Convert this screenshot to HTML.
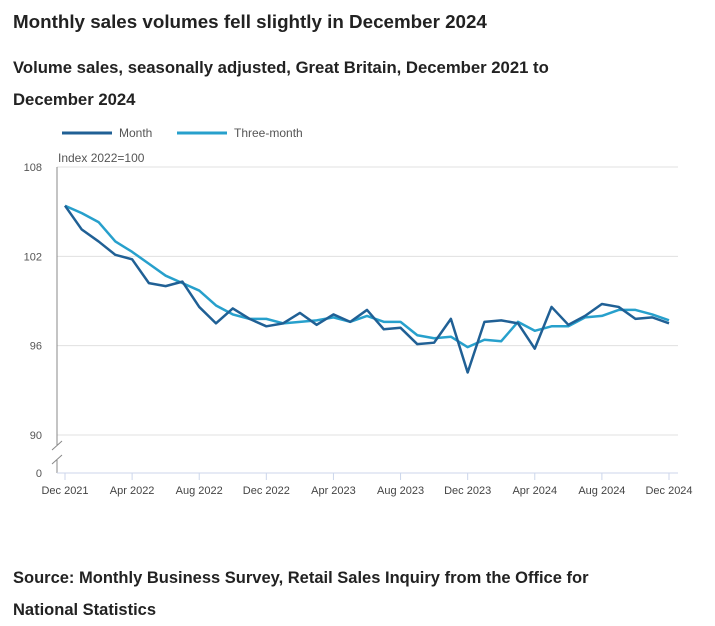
<!DOCTYPE html>
<html><head><meta charset="utf-8"><style>
body{margin:0;background:#fff;font-family:"Liberation Sans",sans-serif;color:#222;width:715px;height:622px;overflow:hidden;position:relative}
.t{position:absolute;left:13px;font-weight:bold;margin:0}
svg{position:absolute;left:0;top:0}
</style></head><body>
<h1 class="t" style="top:11px;font-size:18.8px">Monthly sales volumes fell slightly in December 2024</h1>
<h2 class="t" style="top:52px;font-size:16.7px;line-height:32px;width:580px">Volume sales, seasonally adjusted, Great Britain, December 2021 to December 2024</h2>
<div class="t" style="top:562px;font-size:16.5px;line-height:32px;width:610px">Source: Monthly Business Survey, Retail Sales Inquiry from the Office for National Statistics</div>
<svg id="c" width="715" height="622" font-family="Liberation Sans, sans-serif"></svg>
<script>
const months=["Dec 2021","Apr 2022","Aug 2022","Dec 2022","Apr 2023","Aug 2023","Dec 2023","Apr 2024","Aug 2024","Dec 2024"];
const yTicks=[90,96,102,108];
const monthly=[105.4,103.8,103.0,102.1,101.8,100.2,100.0,100.3,98.6,97.5,98.5,97.8,97.3,97.5,98.2,97.4,98.1,97.6,98.4,97.1,97.2,96.1,96.2,97.8,94.2,97.6,97.7,97.5,95.8,98.6,97.4,98.0,98.8,98.6,97.8,97.9,97.5];
const threeMonth=[105.4,104.9,104.3,103.0,102.3,101.5,100.7,100.2,99.7,98.7,98.1,97.8,97.8,97.5,97.6,97.7,97.9,97.6,98.0,97.6,97.6,96.7,96.5,96.6,95.9,96.4,96.3,97.6,97.0,97.3,97.3,97.9,98.0,98.4,98.4,98.1,97.7];
const NS="http://www.w3.org/2000/svg",svg=document.getElementById('c');
const X=i=>65+i*(604/36), Y=v=>167+(108-v)*(268/18);
function el(t,a,p){const e=document.createElementNS(NS,t);for(const k in a)e.setAttribute(k,a[k]);(p||svg).appendChild(e);return e;}
yTicks.forEach(v=>{
 const g=el('line',{x1:57,x2:678,y1:Y(v),y2:Y(v),stroke:'#e0e0e0'});
 
 
 const t=el('text',{x:42,y:Y(v)+4,'text-anchor':'end','font-size':11,fill:'#555'});t.textContent=v;
 
 
});
let z=el('text',{x:42,y:477,'text-anchor':'end','font-size':11,fill:'#555'});z.textContent='0';


let u=el('text',{x:58,y:162,'font-size':12,fill:'#555'});u.textContent='Index 2022=100';


el('line',{x1:57,x2:57,y1:167,y2:445,stroke:'#888'});
el('line',{x1:57,x2:57,y1:460,y2:473,stroke:'#888'});
el('line',{x1:52,x2:62,y1:450,y2:441,stroke:'#888'});
el('line',{x1:52,x2:62,y1:464,y2:455,stroke:'#888'});
el('line',{x1:57,x2:678,y1:473,y2:473,stroke:'#ccd6eb'});
months.forEach((m,k)=>{const x=X(k*4);
 el('line',{x1:x,x2:x,y1:473,y2:480,stroke:'#ccd6eb'});
 const t=el('text',{x:x,y:494,'text-anchor':'middle','font-size':11,fill:'#444'});t.textContent=m;
 
 
});
function line(d,c,n){const p=el('polyline',{points:d.map((v,i)=>X(i)+','+Y(v)).join(' '),fill:'none',stroke:c,'stroke-width':2.5,'stroke-linejoin':'round'});
 
 }
line(threeMonth,'#27a0cc','three-month-line');
line(monthly,'#206095','month-line');
[[62,'#206095','Month'],[177,'#27a0cc','Three-month']].forEach(([x,c,l])=>{
 const g=el('g',{});
 
 
 el('line',{x1:x,x2:x+50,y1:133,y2:133,stroke:c,'stroke-width':3},g);
 const t=el('text',{x:x+57,y:137,'font-size':12,fill:'#555'},g);t.textContent=l;
});
</script>
</body></html>
